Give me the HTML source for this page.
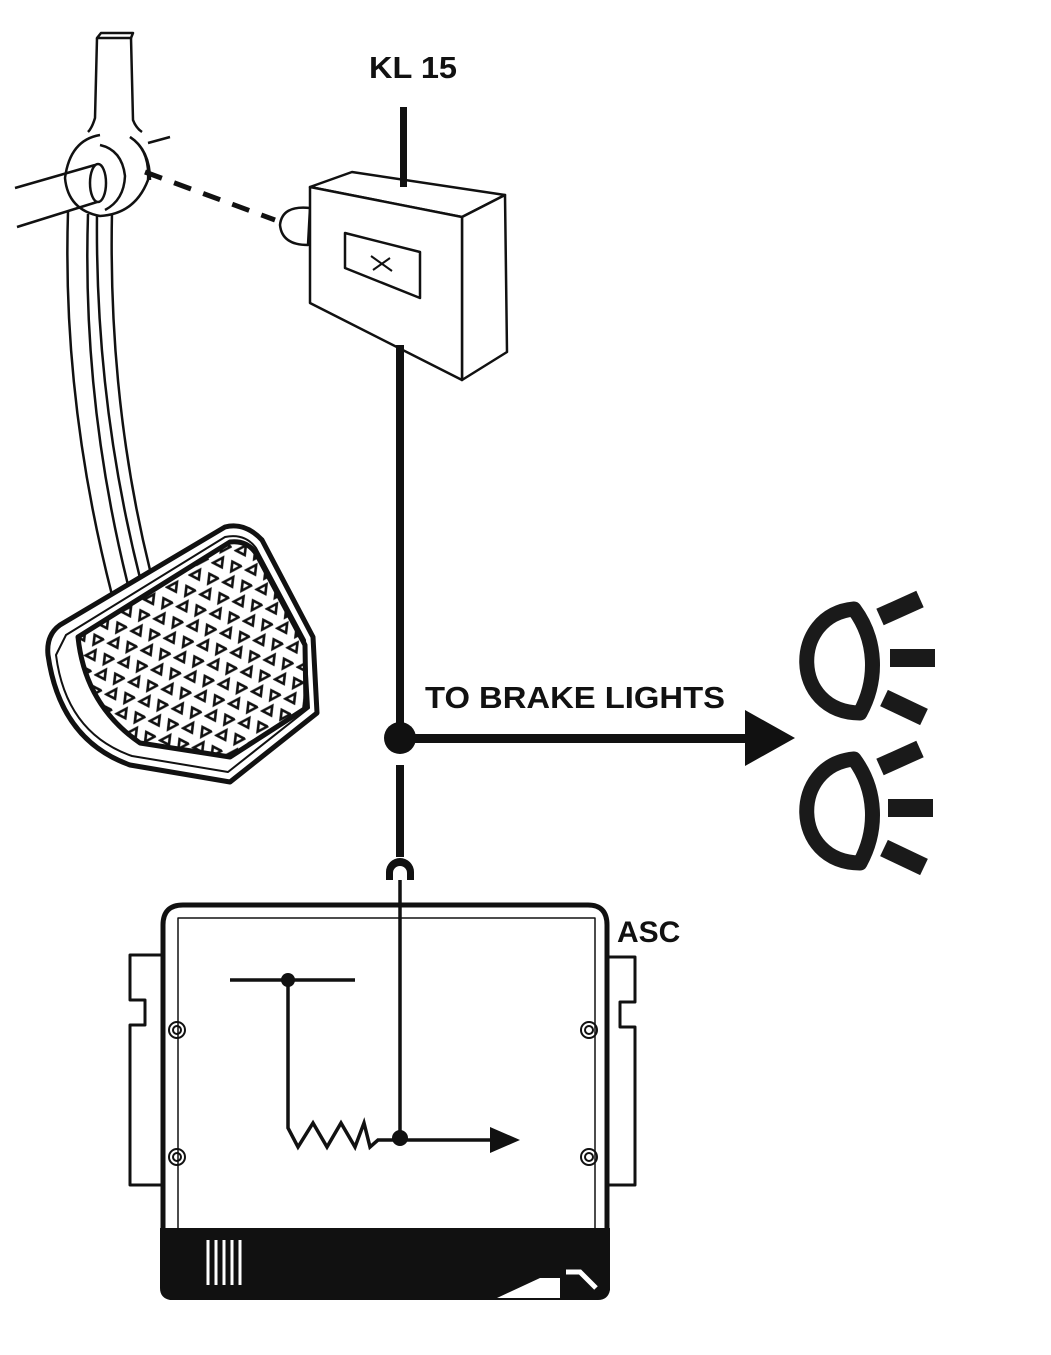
<!DOCTYPE html>
<html><head><meta charset="utf-8"><style>html,body{margin:0;padding:0;background:#fff}svg{display:block}</style></head>
<body>
<svg width="1051" height="1355" viewBox="0 0 1051 1355" xmlns="http://www.w3.org/2000/svg" font-family="Liberation Sans, sans-serif">
<defs>
<pattern id="tri" width="26" height="22" patternUnits="userSpaceOnUse" patternTransform="rotate(-28)">
<rect width="26" height="22" fill="#fff"/>
<path d="M2 3 L13 3 L7.5 11 Z" fill="none" stroke="#111" stroke-width="2.6"/>
<path d="M14 19 L25 19 L19.5 11 Z" fill="none" stroke="#111" stroke-width="2.6"/>
</pattern>
</defs>
<g fill="none" stroke="#111" stroke-width="2.5" stroke-linejoin="round">
<!-- lower arm -->
<path d="M68 212 Q62 400 112 595"/>
<path d="M88 214 Q82 400 128 585"/>
<path d="M97 214 Q95 400 140 578"/>
<path d="M112 212 Q108 400 150 570"/>
<!-- ring -->
<path d="M100 135 Q70 140 65 178 Q68 210 100 216 Q135 214 148 180 Q150 150 130 137" fill="#fff"/>
<path d="M100 145 Q122 150 125 176 Q124 200 105 210"/>
<path d="M130 137 Q150 150 150 180" />
<line x1="148" y1="143" x2="170" y2="137"/>
<!-- pedal arm top -->
<path d="M97 38 L101 33 L133 33 L131 38 Z"/>
<path d="M97 38 L95 118 Q92 128 88 132"/>
<path d="M131 38 L133 120 Q136 128 142 132"/>
<!-- shaft -->
<line x1="15" y1="188" x2="95" y2="165" />
<line x1="17" y1="227" x2="97" y2="202"/>
<ellipse cx="98" cy="183" rx="8" ry="19" fill="#fff"/>
<!-- pad -->
<path d="M60 625 L225 527 Q245 522 262 540 L313 637 L317 713 L230 782 L130 765 Q60 740 48 655 Q46 635 60 625 Z" fill="#fff" stroke-width="5"/>
<path d="M66 635 L225 537 Q245 533 256 548 L305 640 L309 708 L228 772 L132 756 Q66 733 56 655 Z" stroke-width="2"/>
<path d="M78 637 L230 542 Q248 540 257 555 L305 645 L306 708 L230 757 L140 743 Q85 705 78 637 Z" fill="url(#tri)" stroke-width="5"/>
</g>
<!-- dashed -->
<line x1="145" y1="172" x2="275" y2="220" stroke="#111" stroke-width="5" stroke-dasharray="18,13"/>
<!-- switch -->
<g fill="#fff" stroke="#111" stroke-width="2.5" stroke-linejoin="round">
<path d="M310 208 Q282 205 280 225 Q282 245 308 245 Z"/>
<path d="M310 187 L352 172 L505 195 L462 217 Z"/>
<path d="M462 217 L505 195 L507 352 L462 380 Z"/>
<path d="M310 187 L462 217 L462 380 L310 303 Z"/>
<path d="M345 233 L420 252 L420 298 L345 268 Z"/>
<path d="M371 256 L392 271 M373 270 L390 258" stroke-width="2"/>
</g>
<!-- wires -->
<rect x="400" y="107" width="7" height="80" fill="#111"/>
<text x="413" y="78" font-size="31" font-weight="bold" text-anchor="middle" fill="#111" textLength="88" lengthAdjust="spacingAndGlyphs">KL 15</text>
<rect x="396" y="345" width="8" height="382" fill="#111"/>
<circle cx="400" cy="738" r="16" fill="#111"/>
<rect x="396" y="765" width="8" height="92" fill="#111"/>
<rect x="400" y="734" width="350" height="9" fill="#111"/>
<path d="M745 710 L795 738 L745 766 Z" fill="#111"/>
<text x="425" y="708" font-size="31" font-weight="bold" fill="#111" textLength="300" lengthAdjust="spacingAndGlyphs">TO BRAKE LIGHTS</text>
<path d="M386 880 L386 872 A14 14 0 0 1 414 872 L414 880 L407 880 L407 873 A7 7 0 0 0 393 873 L393 880 Z" fill="#111"/>
<!-- lamps -->
<g fill="none" stroke="#1a1a1a" stroke-width="15" stroke-linejoin="round">
<path d="M854 609 C790 615 790 712 860 713 C878 680 877 640 854 609 Z"/>
<path d="M854 759 C790 765 790 862 860 863 C878 830 877 790 854 759 Z"/>
</g>
<g stroke="#1a1a1a" stroke-width="18">
<line x1="880" y1="617" x2="920" y2="599"/>
<line x1="890" y1="658" x2="935" y2="658"/>
<line x1="884" y1="698" x2="924" y2="717"/>
<line x1="880" y1="767" x2="920" y2="749"/>
<line x1="888" y1="808" x2="933" y2="808"/>
<line x1="884" y1="848" x2="924" y2="867"/>
</g>
<!-- ASC -->
<g fill="none" stroke="#111" stroke-linejoin="round">
<path d="M163 955 L130 955 L130 1000 L145 1000 L145 1025 L130 1025 L130 1185 L163 1185" stroke-width="3"/>
<path d="M607 957 L635 957 L635 1002 L620 1002 L620 1027 L635 1027 L635 1185 L607 1185" stroke-width="3"/>
<path d="M163 1230 L163 925 Q163 905 183 905 L588 905 Q607 905 607 925 L607 1230" fill="#fff" stroke-width="5"/>
<path d="M178 1228 L178 918 L595 918 L595 1228" stroke-width="1.5"/>
<g stroke-width="2"><circle cx="177" cy="1030" r="8"/><circle cx="177" cy="1157" r="8"/><circle cx="589" cy="1030" r="8"/><circle cx="589" cy="1157" r="8"/>
<circle cx="177" cy="1030" r="4"/><circle cx="177" cy="1157" r="4"/><circle cx="589" cy="1030" r="4"/><circle cx="589" cy="1157" r="4"/></g>
</g>
<path d="M160 1228 L610 1228 L610 1290 Q608 1300 598 1300 L530 1300 L495 1300 L170 1300 Q160 1298 160 1288 Z" fill="#111"/>
<g stroke="#fff" stroke-width="3"><line x1="208" y1="1240" x2="208" y2="1285"/><line x1="216" y1="1240" x2="216" y2="1285"/><line x1="224" y1="1240" x2="224" y2="1285"/><line x1="232" y1="1240" x2="232" y2="1285"/><line x1="240" y1="1240" x2="240" y2="1285"/></g>
<path d="M497 1298 L540 1278 L560 1278 L560 1298 Z" fill="#fff"/>
<path d="M566 1272 L580 1272 L596 1288" stroke="#fff" stroke-width="5" fill="none"/>
<text x="617" y="942" font-size="30" font-weight="bold" fill="#111">ASC</text>
<!-- inner circuit -->
<g stroke="#111" stroke-width="3.5" fill="none" stroke-linejoin="miter">
<line x1="400" y1="880" x2="400" y2="1138"/>
<line x1="230" y1="980" x2="355" y2="980"/>
<path d="M288 980 L288 1128 L298 1147 L313 1123 L327 1147 L341 1123 L355 1147 L364 1123 L370 1147 L378 1140 L495 1140"/>
</g>
<circle cx="288" cy="980" r="7" fill="#111"/>
<circle cx="400" cy="1138" r="8" fill="#111"/>
<path d="M490 1127 L520 1140 L490 1153 Z" fill="#111"/>
</svg>
</body></html>
